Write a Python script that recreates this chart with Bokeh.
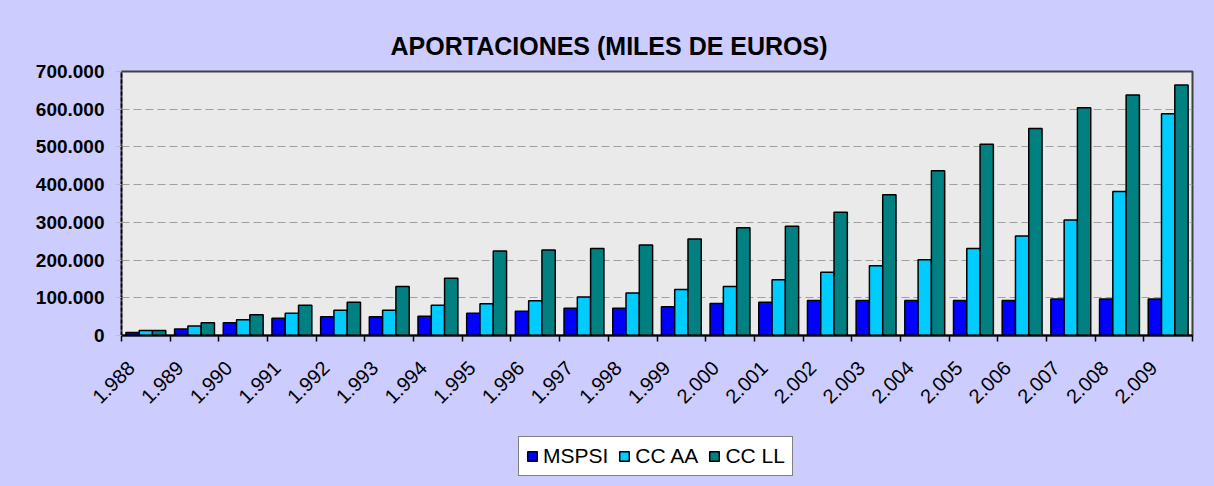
import math
from bokeh.plotting import figure
from bokeh.layouts import column
from bokeh.models import (ColumnDataSource, Range1d, FixedTicker, Legend, LegendItem)
from bokeh.transform import dodge
from bokeh.embed import file_html
from bokeh.resources import INLINE

# ---- data ----
years = ["1.988", "1.989", "1.990", "1.991", "1.992", "1.993", "1.994", "1.995",
         "1.996", "1.997", "1.998", "1.999", "2.000", "2.001", "2.002", "2.003",
         "2.004", "2.005", "2.006", "2.007", "2.008", "2.009"]
mspsi = [8000, 17000, 34000, 46000, 50000, 50000, 51000, 59000, 64000, 72000, 72000,
         76000, 85000, 88000, 93000, 93000, 93000, 93000, 93000, 97000, 97000, 97000]
cc_aa = [13000, 25000, 42000, 59000, 67000, 67000, 80000, 84000, 92000, 102000, 113000,
         122000, 130000, 148000, 168000, 185000, 201000, 231000, 264000, 306000, 382000, 588000]
cc_ll = [13000, 34000, 55000, 80000, 88000, 130000, 152000, 224000, 227000, 231000, 240000,
         256000, 286000, 290000, 327000, 373000, 437000, 507000, 549000, 604000, 638000, 664000]
series_names = ["MSPSI", "CC AA", "CC LL"]
y_ticks = [0, 100000, 200000, 300000, 400000, 500000, 600000, 700000]
y_tick_labels = ["0", "100.000", "200.000", "300.000", "400.000", "500.000", "600.000", "700.000"]
title_text = "APORTACIONES (MILES DE EUROS)"

colors = ["#0000FF", "#00CCFF", "#008080"]
BG = "#CCCCFF"
FONT = "Liberation Sans"

n = len(years)
centers = [i + 0.5 for i in range(n)]
label_pos = [c - 0.3 for c in centers]
src = ColumnDataSource(dict(x=centers, mspsi=mspsi, cc_aa=cc_aa, cc_ll=cc_ll))
cols = ["mspsi", "cc_aa", "cc_ll"]

p = figure(frame_width=1071, frame_height=264, output_backend="svg", toolbar_location=None,
           x_range=Range1d(0, n), y_range=Range1d(0, 700000),
           min_border_left=121, min_border_right=22, min_border_top=71, min_border_bottom=85)

p.background_fill_color = "#EAEAEA"
p.border_fill_color = BG
p.outline_line_color = "#404040"
p.outline_line_width = 2

# title
p.title.text = title_text
p.title.align = "left"
p.title.offset = 269
p.title.text_font = FONT
p.title.text_font_size = "25px"
p.title.text_font_style = "bold"
p.title.text_color = "black"
p.title.standoff = 24

bw = 0.273
offsets = [-bw, 0.0, bw]
for c, off, col in zip(cols, offsets, colors):
    p.vbar(x=dodge("x", off, range=p.x_range), top=c, width=bw, bottom=0, source=src,
           fill_color=col, line_color="black", line_width=1.5)

# x axis
xa = p.xaxis[0]
xa.ticker = FixedTicker(ticks=label_pos, minor_ticks=list(range(n + 1)))
xa.major_label_overrides = {c: y for c, y in zip(label_pos, years)}
xa.major_label_orientation = math.pi / 4
xa.major_tick_out = 0
xa.major_tick_in = 0
xa.minor_tick_out = 6
xa.minor_tick_in = 0
xa.minor_tick_line_color = "black"
xa.minor_tick_line_width = 1.5
xa.axis_line_color = "black"
xa.axis_line_width = 2
xa.major_label_text_font = FONT
xa.major_label_text_font_size = "20px"
xa.major_label_text_color = "black"
xa.major_label_standoff = 23

# y axis
ya = p.yaxis[0]
ya.ticker = FixedTicker(ticks=y_ticks)
ya.major_label_overrides = {t: l for t, l in zip(y_ticks, y_tick_labels)}
ya.axis_line_color = "black"
ya.axis_line_width = 1.5
ya.axis_line_dash = "4 2"
ya.major_tick_out = 5
ya.major_tick_in = 0
ya.major_tick_line_color = "#BBBBBB"
ya.minor_tick_line_color = None
ya.major_label_text_font = FONT
ya.major_label_text_font_size = "19px"
ya.major_label_text_font_style = "bold"
ya.major_label_text_color = "black"
ya.major_label_standoff = 12

p.xgrid.grid_line_color = None
p.ygrid.grid_line_color = "#A0A0A0"
p.ygrid.grid_line_dash = "8 4"
p.ygrid.grid_line_width = 1.2

# legend strip (separate small figure so the legend is not clipped);
# its bar renderers are hidden, only their legend entries are drawn
main_h = 71 + 264 + 85
leg_h = 486 - main_h
q = figure(width=1214, height=leg_h, output_backend="svg", toolbar_location=None,
           x_range=Range1d(-100, -99), y_range=Range1d(0, 700000),
           x_axis_location=None, y_axis_location=None,
           min_border=0)
q.background_fill_color = BG
q.background_fill_alpha = 0.0
q.border_fill_color = BG
q.outline_line_color = None
q.grid.visible = False
leg_renderers = [q.vbar(x="x", top=c, bottom=0, width=bw, source=src,
                        fill_color=col, line_color="black", line_width=1.5, visible=False)
                 for c, col in zip(cols, colors)]

legend = Legend(items=[LegendItem(label=nm, renderers=[r]) for nm, r in zip(series_names, leg_renderers)],
                location=(397, 10), orientation="horizontal")
legend.click_policy = "none"
legend.inactive_fill_alpha = 0.0
legend.background_fill_color = "white"
legend.background_fill_alpha = 1.0
legend.border_line_color = "black"
legend.border_line_width = 1
legend.label_text_font = FONT
legend.label_text_font_size = "21px"
legend.label_text_color = "black"
legend.glyph_width = 12
legend.glyph_height = 12
legend.label_standoff = 5
legend.spacing = 10
legend.padding = 7
legend.margin = 0
legend.label_height = 22
q.add_layout(legend, "center")

layout = column(p, q, spacing=0, styles={"background-color": BG})
open("out.html", "w").write(file_html(layout, INLINE))
